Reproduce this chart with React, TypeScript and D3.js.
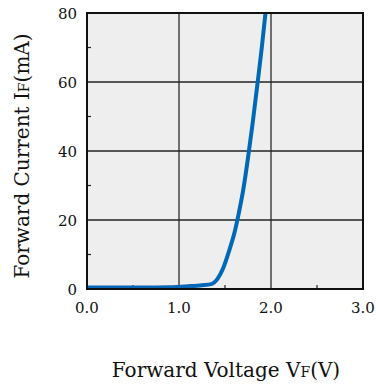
import React from 'react'
import * as d3 from 'd3'

const voltage = [0.0, 0.3, 0.6, 0.9, 1.1, 1.25, 1.35, 1.42, 1.48, 1.55, 1.6, 1.65, 1.7, 1.75, 1.8, 1.86, 1.9, 1.94]
const current = [0.4, 0.4, 0.4, 0.5, 0.8, 1.1, 1.4, 3.0, 6.0, 11.5, 16, 22, 29, 38, 48, 61, 70, 80]
const xTicks = [0, 1, 2, 3]
const xMinor = [0.5, 1.5, 2.5]
const yTicks = [0, 20, 40, 60, 80]
const yMinor = [10, 30, 50, 70]

const font = '"DejaVu Serif", "Liberation Serif", serif'

const App = () => {
  const width = 376
  const height = 385
  const left = 87
  const top = 13
  const right = 363
  const bottom = 289

  const x = d3.scaleLinear().domain([0, 3]).range([left, right])
  const y = d3.scaleLinear().domain([0, 80]).range([bottom, top])
  const pts = voltage.map((v, i) => [v, current[i]] as [number, number])
  const line = d3
    .line<[number, number]>()
    .x(d => x(d[0]))
    .y(d => y(d[1]))
    .curve(d3.curveMonotoneX)

  return (
    <svg width={width} height={height} style={{position: 'absolute', left: 0, top: 0}}>
      <defs>
        <clipPath id="plot">
          <rect x={left} y={top} width={right - left} height={bottom - top} />
        </clipPath>
      </defs>
      <rect x={left} y={top} width={right - left} height={bottom - top} fill="#eeeeee" />
      {xTicks.slice(1, -1).map(t => (
        <line key={t} x1={x(t)} x2={x(t)} y1={top} y2={bottom} stroke="#444" strokeWidth={1.5} />
      ))}
      {yTicks.slice(1, -1).map(t => (
        <line key={t} x1={left} x2={right} y1={y(t)} y2={y(t)} stroke="#222" strokeWidth={1.5} />
      ))}
      {xMinor.map(t => (
        <line key={t} x1={x(t)} x2={x(t)} y1={bottom} y2={bottom - 4} stroke="#222" strokeWidth={1.2} />
      ))}
      {yMinor.map(t => (
        <line key={t} x1={left} x2={left + 4} y1={y(t)} y2={y(t)} stroke="#222" strokeWidth={1.2} />
      ))}
      <path d={line(pts) || ''} fill="none" stroke="#0068b7" strokeWidth={4} clipPath="url(#plot)" />
      <rect x={left} y={top} width={right - left} height={bottom - top} fill="none" stroke="#111" strokeWidth={2} />
      {yTicks.map(t => (
        <text key={t} x={left - 10} y={y(t) + 6} textAnchor="end" fontFamily={font} fontSize={15} fill="#111">
          {t}
        </text>
      ))}
      {xTicks.map(t => (
        <text key={t} x={x(t)} y={bottom + 24} textAnchor="middle" fontFamily={font} fontSize={15} fill="#111">
          {d3.format('.1f')(t)}
        </text>
      ))}
      <text x={226} y={377} textAnchor="middle" fontFamily={font} fontSize={20} fill="#111">
        Forward Voltage V<tspan fontSize={14}>F</tspan>(V)
      </text>
      <text
        transform="translate(29,156) rotate(-90)"
        textAnchor="middle"
        fontFamily={font}
        fontSize={20}
        fill="#111"
      >
        Forward Current I<tspan fontSize={14}>F</tspan>(mA)
      </text>
    </svg>
  )
}

export default App
